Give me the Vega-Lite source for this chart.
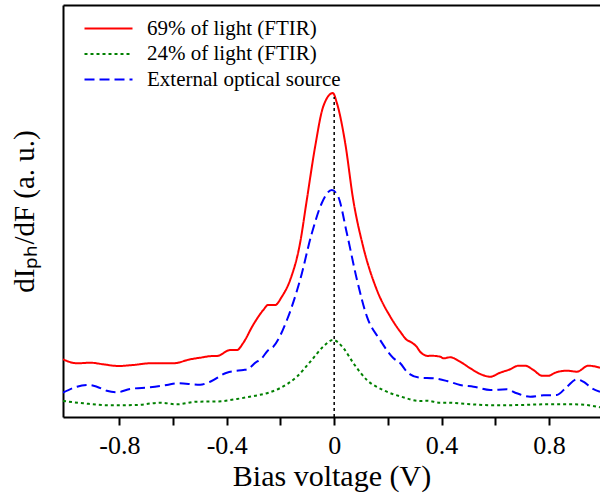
{
  "$schema": "https://vega.github.io/schema/vega-lite/v6.json",
  "width": 537,
  "height": 412,
  "autosize": {"type": "none"},
  "padding": {"left": 63, "top": 5, "right": 0, "bottom": 79},
  "config": {"view": {"stroke": null}, "font": "Liberation Serif", "axis": {"labelFont": "Liberation Serif", "titleFont": "Liberation Serif"}, "legend": {"labelFont": "Liberation Serif"}},
  "layer": [
    {
      "data": {"values": [
        {"s": "69% of light (FTIR)", "v": -1.01, "y": 57.7},
        {"s": "69% of light (FTIR)", "v": -0.958, "y": 53.7},
        {"s": "69% of light (FTIR)", "v": -0.909, "y": 54.3},
        {"s": "69% of light (FTIR)", "v": -0.86, "y": 52.7},
        {"s": "69% of light (FTIR)", "v": -0.804, "y": 51},
        {"s": "69% of light (FTIR)", "v": -0.749, "y": 52},
        {"s": "69% of light (FTIR)", "v": -0.685, "y": 53.7},
        {"s": "69% of light (FTIR)", "v": -0.6, "y": 53.7},
        {"s": "69% of light (FTIR)", "v": -0.536, "y": 57.7},
        {"s": "69% of light (FTIR)", "v": -0.499, "y": 59.3},
        {"s": "69% of light (FTIR)", "v": -0.451, "y": 61},
        {"s": "69% of light (FTIR)", "v": -0.437, "y": 61},
        {"s": "69% of light (FTIR)", "v": -0.387, "y": 67},
        {"s": "69% of light (FTIR)", "v": -0.362, "y": 67},
        {"s": "69% of light (FTIR)", "v": -0.339, "y": 74},
        {"s": "69% of light (FTIR)", "v": -0.302, "y": 92},
        {"s": "69% of light (FTIR)", "v": -0.264, "y": 107},
        {"s": "69% of light (FTIR)", "v": -0.246, "y": 112},
        {"s": "69% of light (FTIR)", "v": -0.22, "y": 112},
        {"s": "69% of light (FTIR)", "v": -0.195, "y": 120.3},
        {"s": "69% of light (FTIR)", "v": -0.164, "y": 137},
        {"s": "69% of light (FTIR)", "v": -0.127, "y": 174},
        {"s": "69% of light (FTIR)", "v": -0.102, "y": 217},
        {"s": "69% of light (FTIR)", "v": -0.071, "y": 270.3},
        {"s": "69% of light (FTIR)", "v": -0.041, "y": 310.3},
        {"s": "69% of light (FTIR)", "v": -0.005, "y": 324},
        {"s": "69% of light (FTIR)", "v": 0.01, "y": 314},
        {"s": "69% of light (FTIR)", "v": 0.041, "y": 274},
        {"s": "69% of light (FTIR)", "v": 0.071, "y": 217},
        {"s": "69% of light (FTIR)", "v": 0.108, "y": 170.3},
        {"s": "69% of light (FTIR)", "v": 0.159, "y": 127},
        {"s": "69% of light (FTIR)", "v": 0.209, "y": 100.3},
        {"s": "69% of light (FTIR)", "v": 0.246, "y": 85.3},
        {"s": "69% of light (FTIR)", "v": 0.271, "y": 77},
        {"s": "69% of light (FTIR)", "v": 0.283, "y": 75.3},
        {"s": "69% of light (FTIR)", "v": 0.308, "y": 70},
        {"s": "69% of light (FTIR)", "v": 0.32, "y": 65.3},
        {"s": "69% of light (FTIR)", "v": 0.35, "y": 61},
        {"s": "69% of light (FTIR)", "v": 0.358, "y": 61.3},
        {"s": "69% of light (FTIR)", "v": 0.395, "y": 60.3},
        {"s": "69% of light (FTIR)", "v": 0.407, "y": 58.7},
        {"s": "69% of light (FTIR)", "v": 0.432, "y": 59.7},
        {"s": "69% of light (FTIR)", "v": 0.469, "y": 55.3},
        {"s": "69% of light (FTIR)", "v": 0.507, "y": 48.7},
        {"s": "69% of light (FTIR)", "v": 0.544, "y": 43},
        {"s": "69% of light (FTIR)", "v": 0.581, "y": 40.3},
        {"s": "69% of light (FTIR)", "v": 0.618, "y": 44.3},
        {"s": "69% of light (FTIR)", "v": 0.655, "y": 47.7},
        {"s": "69% of light (FTIR)", "v": 0.686, "y": 51.3},
        {"s": "69% of light (FTIR)", "v": 0.711, "y": 51.3},
        {"s": "69% of light (FTIR)", "v": 0.742, "y": 47},
        {"s": "69% of light (FTIR)", "v": 0.774, "y": 41.3},
        {"s": "69% of light (FTIR)", "v": 0.798, "y": 41.3},
        {"s": "69% of light (FTIR)", "v": 0.823, "y": 44.3},
        {"s": "69% of light (FTIR)", "v": 0.867, "y": 46.3},
        {"s": "69% of light (FTIR)", "v": 0.904, "y": 45.3},
        {"s": "69% of light (FTIR)", "v": 0.947, "y": 51.3},
        {"s": "69% of light (FTIR)", "v": 0.99, "y": 49.3},

        {"s": "24% of light (FTIR)", "v": -1.01, "y": 16},
        {"s": "24% of light (FTIR)", "v": -0.934, "y": 13.7},
        {"s": "24% of light (FTIR)", "v": -0.834, "y": 11.7},
        {"s": "24% of light (FTIR)", "v": -0.735, "y": 12},
        {"s": "24% of light (FTIR)", "v": -0.648, "y": 14.3},
        {"s": "24% of light (FTIR)", "v": -0.586, "y": 12.7},
        {"s": "24% of light (FTIR)", "v": -0.511, "y": 15.3},
        {"s": "24% of light (FTIR)", "v": -0.437, "y": 15.5},
        {"s": "24% of light (FTIR)", "v": -0.362, "y": 18},
        {"s": "24% of light (FTIR)", "v": -0.32, "y": 20},
        {"s": "24% of light (FTIR)", "v": -0.28, "y": 22},
        {"s": "24% of light (FTIR)", "v": -0.245, "y": 24.3},
        {"s": "24% of light (FTIR)", "v": -0.201, "y": 29},
        {"s": "24% of light (FTIR)", "v": -0.139, "y": 40.3},
        {"s": "24% of light (FTIR)", "v": -0.089, "y": 55.3},
        {"s": "24% of light (FTIR)", "v": -0.041, "y": 70.3},
        {"s": "24% of light (FTIR)", "v": -0.004, "y": 77},
        {"s": "24% of light (FTIR)", "v": 0.034, "y": 69},
        {"s": "24% of light (FTIR)", "v": 0.071, "y": 54},
        {"s": "24% of light (FTIR)", "v": 0.122, "y": 37},
        {"s": "24% of light (FTIR)", "v": 0.182, "y": 27},
        {"s": "24% of light (FTIR)", "v": 0.25, "y": 20.3},
        {"s": "24% of light (FTIR)", "v": 0.32, "y": 16},
        {"s": "24% of light (FTIR)", "v": 0.345, "y": 16.3},
        {"s": "24% of light (FTIR)", "v": 0.395, "y": 14.3},
        {"s": "24% of light (FTIR)", "v": 0.42, "y": 14.3},
        {"s": "24% of light (FTIR)", "v": 0.494, "y": 13},
        {"s": "24% of light (FTIR)", "v": 0.593, "y": 11.7},
        {"s": "24% of light (FTIR)", "v": 0.693, "y": 12},
        {"s": "24% of light (FTIR)", "v": 0.792, "y": 12.7},
        {"s": "24% of light (FTIR)", "v": 0.891, "y": 12.7},
        {"s": "24% of light (FTIR)", "v": 0.941, "y": 12},
        {"s": "24% of light (FTIR)", "v": 0.99, "y": 9.7},

        {"s": "External optical source", "v": -1.01, "y": 24.3},
        {"s": "External optical source", "v": -0.958, "y": 30.3},
        {"s": "External optical source", "v": -0.915, "y": 32},
        {"s": "External optical source", "v": -0.884, "y": 30.3},
        {"s": "External optical source", "v": -0.847, "y": 26.3},
        {"s": "External optical source", "v": -0.809, "y": 24.7},
        {"s": "External optical source", "v": -0.76, "y": 28},
        {"s": "External optical source", "v": -0.685, "y": 29.7},
        {"s": "External optical source", "v": -0.623, "y": 32},
        {"s": "External optical source", "v": -0.586, "y": 33.7},
        {"s": "External optical source", "v": -0.499, "y": 32.3},
        {"s": "External optical source", "v": -0.462, "y": 35.3},
        {"s": "External optical source", "v": -0.4, "y": 44.3},
        {"s": "External optical source", "v": -0.338, "y": 47},
        {"s": "External optical source", "v": -0.325, "y": 47.5},
        {"s": "External optical source", "v": -0.288, "y": 55.3},
        {"s": "External optical source", "v": -0.276, "y": 57},
        {"s": "External optical source", "v": -0.245, "y": 67},
        {"s": "External optical source", "v": -0.227, "y": 70.3},
        {"s": "External optical source", "v": -0.176, "y": 97},
        {"s": "External optical source", "v": -0.127, "y": 137},
        {"s": "External optical source", "v": -0.083, "y": 184},
        {"s": "External optical source", "v": -0.046, "y": 214},
        {"s": "External optical source", "v": -0.009, "y": 227},
        {"s": "External optical source", "v": 0.015, "y": 220.3},
        {"s": "External optical source", "v": 0.047, "y": 184},
        {"s": "External optical source", "v": 0.085, "y": 137},
        {"s": "External optical source", "v": 0.122, "y": 100.3},
        {"s": "External optical source", "v": 0.171, "y": 77},
        {"s": "External optical source", "v": 0.22, "y": 59},
        {"s": "External optical source", "v": 0.246, "y": 53.7},
        {"s": "External optical source", "v": 0.271, "y": 45.3},
        {"s": "External optical source", "v": 0.283, "y": 42.7},
        {"s": "External optical source", "v": 0.32, "y": 39.3},
        {"s": "External optical source", "v": 0.37, "y": 38.7},
        {"s": "External optical source", "v": 0.42, "y": 36},
        {"s": "External optical source", "v": 0.469, "y": 32},
        {"s": "External optical source", "v": 0.519, "y": 30.3},
        {"s": "External optical source", "v": 0.581, "y": 27},
        {"s": "External optical source", "v": 0.643, "y": 27.7},
        {"s": "External optical source", "v": 0.68, "y": 23.7},
        {"s": "External optical source", "v": 0.73, "y": 20.3},
        {"s": "External optical source", "v": 0.78, "y": 21.7},
        {"s": "External optical source", "v": 0.829, "y": 22},
        {"s": "External optical source", "v": 0.867, "y": 30.3},
        {"s": "External optical source", "v": 0.904, "y": 37.7},
        {"s": "External optical source", "v": 0.928, "y": 35.3},
        {"s": "External optical source", "v": 0.96, "y": 28.7},
        {"s": "External optical source", "v": 0.99, "y": 25.3}
      ]},
      "mark": {"type": "line", "strokeWidth": 2, "interpolate": "monotone", "clip": true},
      "encoding": {
        "x": {
          "field": "v", "type": "quantitative",
          "scale": {"domain": [-1.01, 0.99], "nice": false, "zero": false},
          "axis": {
            "orient": "bottom",
            "values": [-0.8, -0.6, -0.4, -0.2, 0, 0.2, 0.4, 0.6, 0.8],
            "labelExpr": "round(datum.value*10) % 4 == 0 ? (datum.value == 0 ? '0' : (datum.value < 0 ? '-' : '') + format(abs(datum.value), '.1f')) : ''",
            "grid": false,
            "domain": true, "domainColor": "black", "domainWidth": 2,
            "ticks": true, "tickSize": 8, "tickWidth": 2, "tickColor": "black",
            "labelFont": "Liberation Serif", "labelFontSize": 26, "labelColor": "black", "labelPadding": 7,
            "labelFlush": false, "labelOverlap": false,
            "title": "Bias voltage (V)",
            "titleFont": "Liberation Serif", "titleFontSize": 30, "titleFontWeight": "normal", "titleColor": "black",
            "titlePadding": 3
          }
        },
        "y": {
          "field": "y", "type": "quantitative",
          "scale": {"domain": [0, 412], "nice": false},
          "axis": {
            "orient": "left",
            "labels": false, "ticks": false, "grid": false,
            "domain": true, "domainColor": "black", "domainWidth": 2,
            "title": "dIₚₕ/dF (a. u.)",
            "titleFont": "Liberation Serif", "titleFontSize": 29, "titleFontWeight": "normal", "titleColor": "black",
            "titlePadding": 24
          }
        },
        "color": {
          "field": "s", "type": "nominal",
          "scale": {"domain": ["69% of light (FTIR)", "24% of light (FTIR)", "External optical source"], "range": ["#ff0000", "#008000", "#0000ff"]},
          "legend": {
            "title": null, "orient": "none", "legendX": 35, "legendY": 13,
            "labelFont": "Liberation Serif", "labelFontSize": 21, "labelColor": "black", "labelLimit": 400,
            "symbolType": "M-3,0H3", "symbolSize": 256, "symbolStrokeWidth": 2,
            "labelOffset": 28, "rowPadding": 3.5, "padding": 0
          }
        },
        "strokeDash": {
          "field": "s", "type": "nominal",
          "scale": {"domain": ["69% of light (FTIR)", "24% of light (FTIR)", "External optical source"], "range": [[1, 0], [3, 3], [10, 5]]},
          "legend": {
            "title": null, "orient": "none", "legendX": 35, "legendY": 13,
            "labelFont": "Liberation Serif", "labelFontSize": 21, "labelColor": "black", "labelLimit": 400,
            "symbolType": "M-3,0H3", "symbolSize": 256, "symbolStrokeWidth": 2,
            "labelOffset": 28, "rowPadding": 3.5, "padding": 0
          }
        }
      }
    },
    {
      "data": {"values": [{"v": 0, "y0": 0, "y1": 320}]},
      "mark": {"type": "rule", "color": "black", "strokeWidth": 1.5, "strokeDash": [3, 3]},
      "encoding": {
        "x": {
          "field": "v", "type": "quantitative",
          "axis": {"orient": "top", "labels": false, "ticks": false, "grid": false, "title": null, "domain": true, "domainColor": "black", "domainWidth": 2}
        },
        "y": {"field": "y0", "type": "quantitative"},
        "y2": {"field": "y1"}
      }
    }
  ]
}
